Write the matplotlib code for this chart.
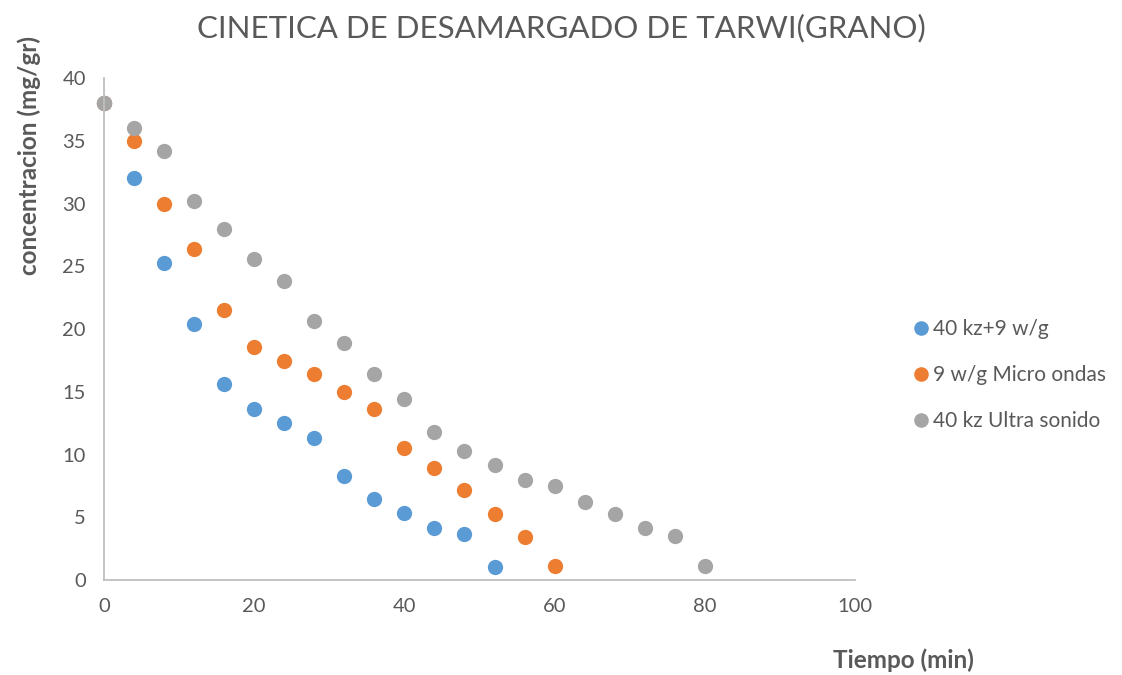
import matplotlib
matplotlib.use("Agg")
import matplotlib.pyplot as plt
from matplotlib.lines import Line2D

plt.rcParams['font.family'] = ['Lato', 'DejaVu Sans']

# Time (min) and concentration (mg/gr) for each treatment
t_combined = [0, 4, 8, 12, 16, 20, 24, 28, 32, 36, 40, 44, 48, 52]
c_combined = [38, 32, 25.3, 20.4, 15.6, 13.65, 12.5, 11.35, 8.25, 6.45, 5.35, 4.15, 3.7, 1.05]

t_micro = [0, 4, 8, 12, 16, 20, 24, 28, 32, 36, 40, 44, 48, 52, 56, 60]
c_micro = [38, 35, 30, 26.4, 21.55, 18.55, 17.45, 16.4, 14.95, 13.6, 10.5, 8.9, 7.15, 5.3, 3.4, 1.15]

t_ultra = [0, 4, 8, 12, 16, 20, 24, 28, 32, 36, 40, 44, 48, 52, 56, 60, 64, 68, 72, 76, 80]
c_ultra = [38, 36, 34.2, 30.2, 27.95, 25.55, 23.8, 20.6, 18.85, 16.45, 14.4, 11.8, 10.25, 9.15, 8.0, 7.5,
           6.2, 5.25, 4.15, 3.5, 1.15]

series_labels = ["40 kz+9 w/g", "9 w/g Micro ondas", "40 kz Ultra sonido"]
colors = ["#5B9BD5", "#ED7D31", "#A5A5A5"]
text_color = "#595959"

fig = plt.figure(figsize=(11.22, 6.75), dpi=100)
ax = fig.add_axes([0.0927, 0.1407, 0.6693, 0.7437])

for t, c, lab, col in zip([t_combined, t_micro, t_ultra],
                          [c_combined, c_micro, c_ultra],
                          series_labels, colors):
    ax.plot(t, c, linestyle="none", marker="o", markersize=11, color=col,
            markeredgewidth=0, label=lab, clip_on=False)

ax.set_xlim(0, 100)
ax.set_ylim(0, 40)
ax.set_xticks(range(0, 101, 20))
ax.set_yticks(range(0, 41, 5))

for side in ("top", "right"):
    ax.spines[side].set_visible(False)
for side in ("left", "bottom"):
    ax.spines[side].set_color("#BFBFBF")
    ax.spines[side].set_linewidth(1.3)

ax.tick_params(axis="both", length=0, labelsize=14.5, labelcolor=text_color)
ax.tick_params(axis="x", pad=13)
ax.tick_params(axis="y", pad=13)

fig.text(0.5, 0.958, "CINETICA DE DESAMARGADO DE TARWI(GRANO)", ha="center", va="center",
         fontsize=22.5, color=text_color)
fig.text(0.026, 0.77, "concentracion (mg/gr)", rotation=90, ha="center", va="center",
         fontsize=17.5, fontweight="bold", color=text_color)
fig.text(0.805, 0.022, "Tiempo (min)", ha="center", va="center",
         fontsize=17.5, fontweight="bold", color=text_color)

handles = [Line2D([], [], linestyle="none", marker="o", markersize=10.5, color=col, markeredgewidth=0)
           for col in colors]
leg = fig.legend(handles, series_labels, loc="center left", bbox_to_anchor=(0.793, 0.444),
                 frameon=False, fontsize=15, handletextpad=0.0, labelspacing=1.25,
                 handlelength=1.2)
for txt in leg.get_texts():
    txt.set_color(text_color)

fig.savefig("out.png", dpi=100)
